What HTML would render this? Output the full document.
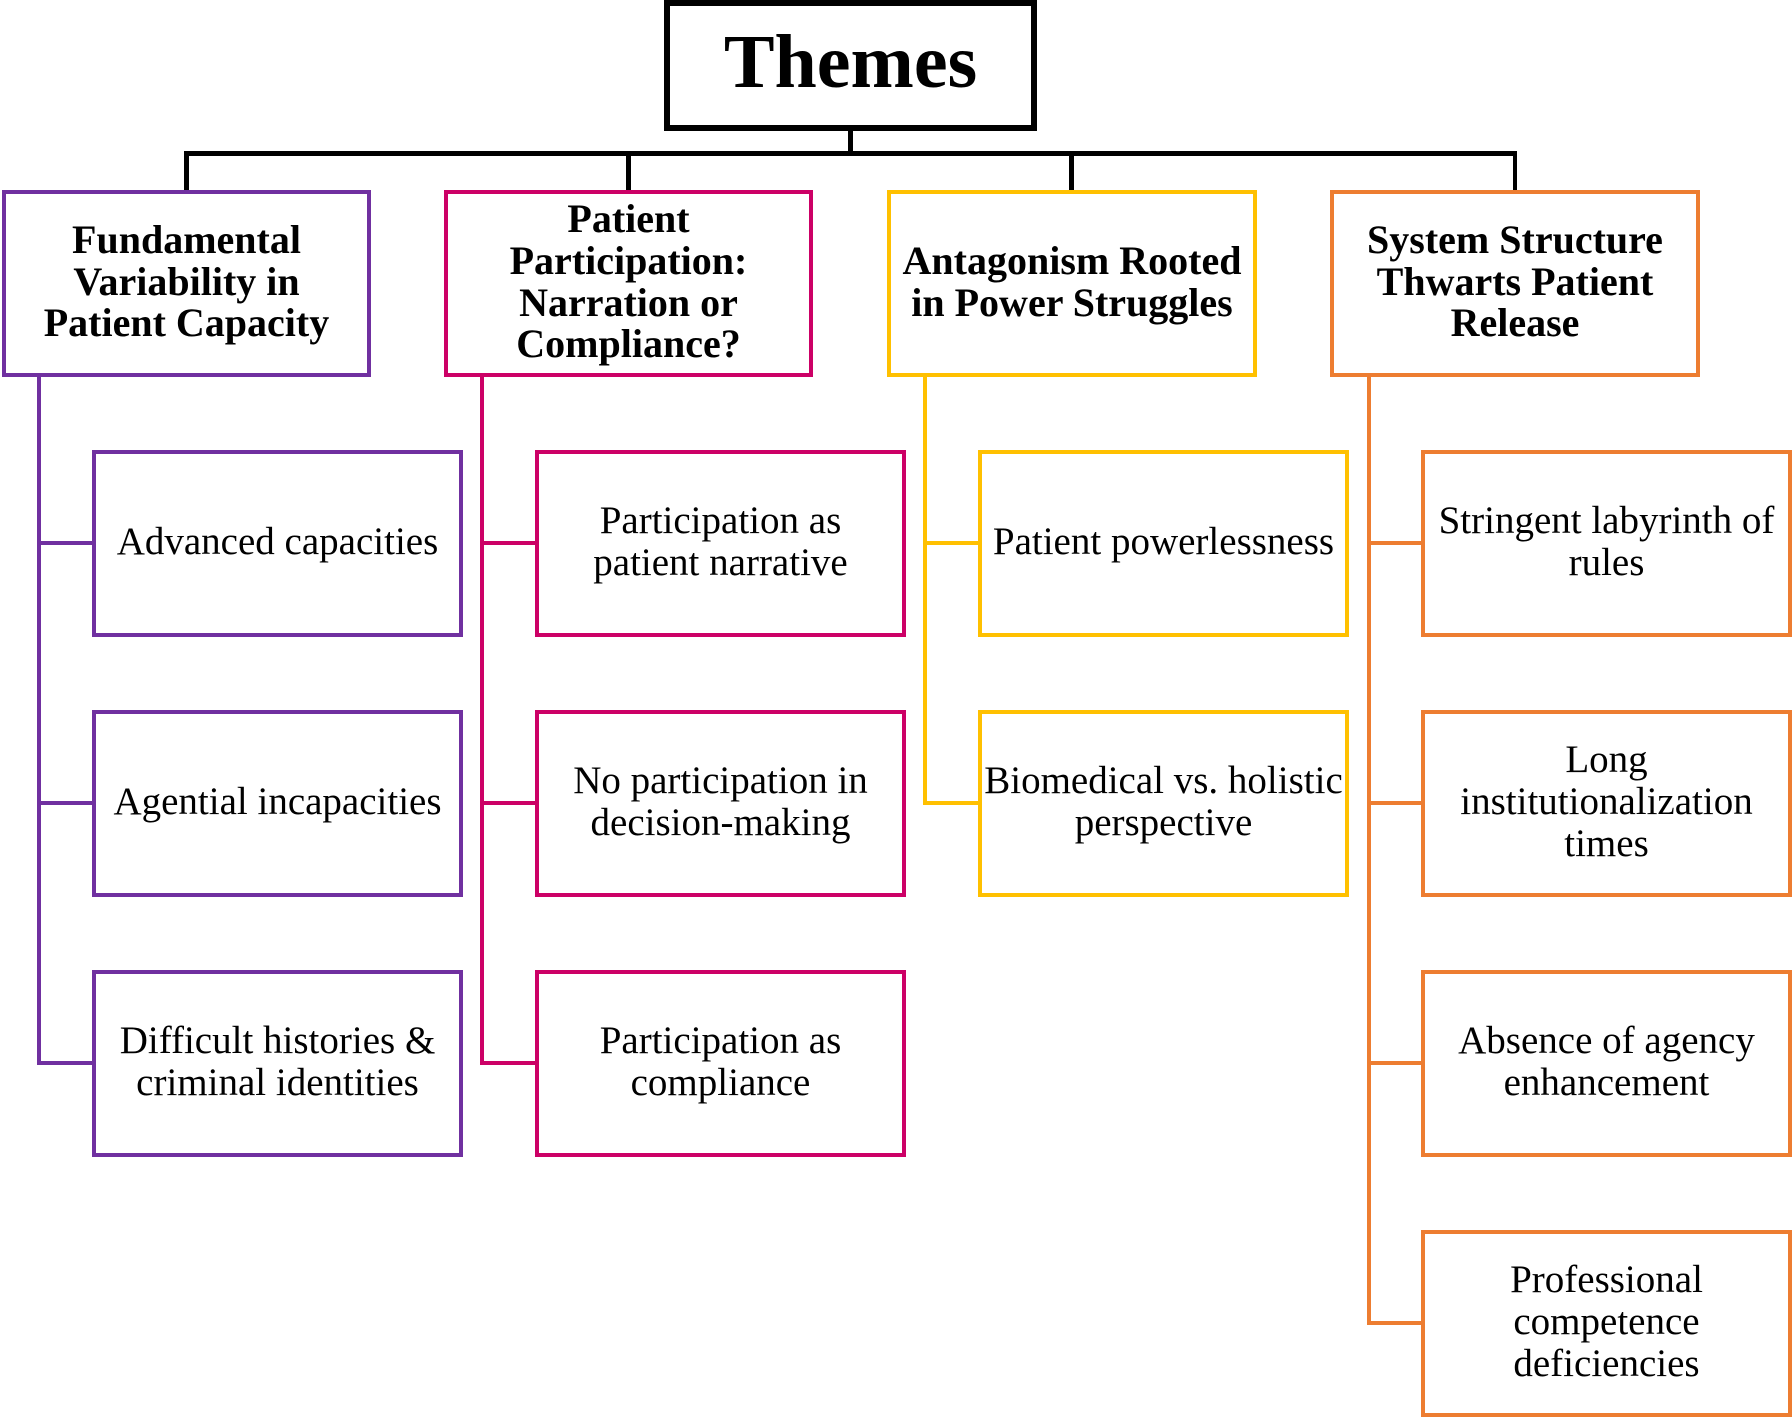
<!DOCTYPE html>
<html>
<head>
<meta charset="utf-8">
<style>
  html, body { margin:0; padding:0; background:#fff; }
  body { width:1792px; height:1417px; position:relative; overflow:hidden;
         font-family:"Liberation Serif", serif; color:#000; }
  .box { position:absolute; box-sizing:border-box; background:#fff;
         display:flex; align-items:center; justify-content:center; text-align:center; }
  .box span { display:block; white-space:nowrap; position:relative; }
  .top { top:190px; height:187px; border-width:4px; border-style:solid; }
  .top span { font-weight:bold; font-size:40px; line-height:41.7px; top:-2px; }
  .ch { height:187px; width:371px; border-width:4px; border-style:solid; }
  .ch span { font-size:39px; line-height:41.7px; top:-1px; }
  .ln { position:absolute; }
  .P { border-color:#7030A0; } .PB { background:#7030A0; }
  .M { border-color:#CC0066; } .MB { background:#CC0066; }
  .Y { border-color:#FFC000; } .YB { background:#FFC000; }
  .O { border-color:#ED7D31; } .OB { background:#ED7D31; }
  .K { background:#000; }
</style>
</head>
<body>

<!-- Black connectors -->
<div class="ln K" style="left:848px;top:128px;width:5px;height:26px;"></div>
<div class="ln K" style="left:184px;top:151px;width:1333px;height:4.5px;"></div>
<div class="ln K" style="left:184px;top:151px;width:4.5px;height:40px;"></div>
<div class="ln K" style="left:626px;top:151px;width:4.5px;height:40px;"></div>
<div class="ln K" style="left:1069px;top:151px;width:4.5px;height:40px;"></div>
<div class="ln K" style="left:1512.5px;top:151px;width:4.5px;height:40px;"></div>

<!-- Themes -->
<div class="box" style="left:664px;top:0;width:373px;height:131px;border:6px solid #000;">
  <span style="font-weight:bold;font-size:76px;line-height:80px;top:-4px;">Themes</span>
</div>

<!-- Purple connectors -->
<div class="ln PB" style="left:37px;top:376px;width:4px;height:689px;"></div>
<div class="ln PB" style="left:37px;top:541px;width:56px;height:4px;"></div>
<div class="ln PB" style="left:37px;top:801px;width:56px;height:4px;"></div>
<div class="ln PB" style="left:37px;top:1061px;width:56px;height:4px;"></div>

<!-- Pink connectors -->
<div class="ln MB" style="left:480px;top:376px;width:4px;height:689px;"></div>
<div class="ln MB" style="left:480px;top:541px;width:56px;height:4px;"></div>
<div class="ln MB" style="left:480px;top:801px;width:56px;height:4px;"></div>
<div class="ln MB" style="left:480px;top:1061px;width:56px;height:4px;"></div>

<!-- Yellow connectors -->
<div class="ln YB" style="left:923px;top:376px;width:4px;height:429px;"></div>
<div class="ln YB" style="left:923px;top:541px;width:56px;height:4px;"></div>
<div class="ln YB" style="left:923px;top:801px;width:56px;height:4px;"></div>

<!-- Orange connectors -->
<div class="ln OB" style="left:1366.5px;top:376px;width:4px;height:949px;"></div>
<div class="ln OB" style="left:1366.5px;top:541px;width:56px;height:4px;"></div>
<div class="ln OB" style="left:1366.5px;top:801px;width:56px;height:4px;"></div>
<div class="ln OB" style="left:1366.5px;top:1061px;width:56px;height:4px;"></div>
<div class="ln OB" style="left:1366.5px;top:1321px;width:56px;height:4px;"></div>

<!-- Top-level boxes -->
<div class="box top P" style="left:2px;width:369px;">
  <span>Fundamental<br>Variability in<br>Patient Capacity</span>
</div>
<div class="box top M" style="left:444px;width:369px;">
  <span>Patient<br>Participation:<br>Narration or<br>Compliance?</span>
</div>
<div class="box top Y" style="left:887px;width:370px;">
  <span>Antagonism Rooted<br>in Power Struggles</span>
</div>
<div class="box top O" style="left:1330px;width:370px;">
  <span>System Structure<br>Thwarts Patient<br>Release</span>
</div>

<!-- Purple children -->
<div class="box ch P" style="left:92px;top:449.5px;"><span>Advanced capacities</span></div>
<div class="box ch P" style="left:92px;top:709.5px;"><span>Agential incapacities</span></div>
<div class="box ch P" style="left:92px;top:969.5px;"><span>Difficult histories &amp;<br>criminal identities</span></div>

<!-- Pink children -->
<div class="box ch M" style="left:535px;top:449.5px;"><span>Participation as<br>patient narrative</span></div>
<div class="box ch M" style="left:535px;top:709.5px;"><span>No participation in<br>decision-making</span></div>
<div class="box ch M" style="left:535px;top:969.5px;"><span>Participation as<br>compliance</span></div>

<!-- Yellow children -->
<div class="box ch Y" style="left:978px;top:449.5px;"><span>Patient powerlessness</span></div>
<div class="box ch Y" style="left:978px;top:709.5px;"><span>Biomedical vs. holistic<br>perspective</span></div>

<!-- Orange children -->
<div class="box ch O" style="left:1421px;top:449.5px;"><span>Stringent labyrinth of<br>rules</span></div>
<div class="box ch O" style="left:1421px;top:709.5px;"><span>Long<br>institutionalization<br>times</span></div>
<div class="box ch O" style="left:1421px;top:969.5px;"><span>Absence of agency<br>enhancement</span></div>
<div class="box ch O" style="left:1421px;top:1229.5px;"><span>Professional<br>competence<br>deficiencies</span></div>

</body>
</html>
